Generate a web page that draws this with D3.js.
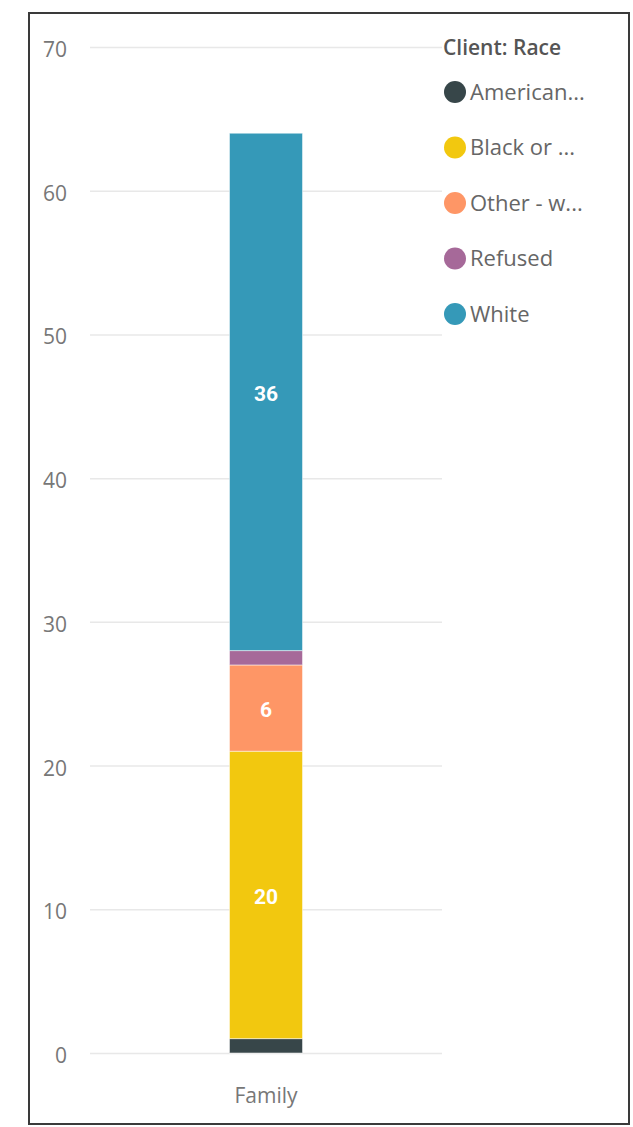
<!DOCTYPE html>
<html>
<head>
<meta charset="utf-8">
<title>stacked column</title>
<style>
  body { margin: 0; background: #fff; }
  text { font-family: "Open Sans", "Noto Sans", sans-serif; }
</style>
</head>
<body>
<svg width="633" height="1127"></svg>
<script src="https://d3js.org/d3.v7.min.js"></script>
<script>

    // data
    var categories = ["Family"];
    var races = ["American...", "Black or ...", "Other - w...", "Refused", "White"];
    var colors = ["#374649", "#F2C80F", "#FE9666", "#A66999", "#3599B8"];
    var counts = [[1, 20, 6, 1, 36]];   // one row per category
    var yTicks = [0, 10, 20, 30, 40, 50, 60, 70];

    var svg = d3.select("svg");

    // frame
    svg.append("rect")
        .attr("x", 29).attr("y", 13)
        .attr("width", 600).attr("height", 1111)
        .attr("fill", "none")
        .attr("stroke", "#3a3a3a")
        .attr("stroke-width", 2);

    var x = d3.scaleBand()
        .domain(categories)
        .range([90, 442])
        .paddingInner(0)
        .paddingOuter(1.91);

    var y = d3.scaleLinear()
        .domain([0, 70])
        .range([1053, 47]);

    // gridlines + tick labels
    var yAxis = svg.append("g")
        .attr("transform", "translate(90,0)")
        .call(d3.axisLeft(y).tickValues(yTicks).tickSize(-352).tickPadding(23));
    yAxis.select(".domain").remove();
    yAxis.selectAll(".tick line").attr("stroke", "#e8e8e8").attr("stroke-width", 1.5);
    yAxis.selectAll(".tick text")
        .attr("fill", "#777")
        .attr("dy", "0.45em")
        .style("font-size", "21px")
        .style("font-family", "'Open Sans', sans-serif");

    var xAxis = svg.append("g")
        .attr("transform", "translate(0,1053)")
        .call(d3.axisBottom(x).tickSize(0).tickPadding(35));
    xAxis.select(".domain").remove();
    xAxis.selectAll(".tick text")
        .attr("fill", "#777")
        .style("font-size", "21px")
        .style("font-family", "'Open Sans', sans-serif");

    // stack
    var rows = categories.map(function (c, i) {
        var r = { cat: c };
        races.forEach(function (k, j) { r[k] = counts[i][j]; });
        return r;
    });
    var series = d3.stack().keys(races)(rows);

    var layer = svg.append("g").selectAll("g")
        .data(series)
        .enter().append("g")
        .attr("fill", function (d, i) { return colors[i]; });

    layer.selectAll("rect")
        .data(function (d) { return d; })
        .enter().append("rect")
        .attr("x", function (d) { return x(d.data.cat); })
        .attr("y", function (d) { return y(d[1]); })
        .attr("width", x.bandwidth())
        .attr("height", function (d) { return y(d[0]) - y(d[1]); })
        .attr("stroke", "rgba(255,255,255,0.5)")
        .attr("stroke-width", 1);

    // data labels on the bigger segments
    layer.selectAll("text")
        .data(function (d) { return d.filter(function (p) { return p[1] - p[0] >= 3; }); })
        .enter().append("text")
        .attr("x", function (d) { return x(d.data.cat) + x.bandwidth() / 2; })
        .attr("y", function (d) { return (y(d[0]) + y(d[1])) / 2 + 2; })
        .attr("dy", "0.35em")
        .attr("text-anchor", "middle")
        .attr("fill", "#fff")
        .style("font-family", "Roboto, sans-serif")
        .style("font-weight", "bold")
        .style("font-size", "21px")
        .text(function (d) { return d[1] - d[0]; });

    // legend
    var legend = svg.append("g");
    legend.append("text")
        .attr("x", 443).attr("y", 55)
        .attr("fill", "#555")
        .style("font-size", "21px")
        .style("font-weight", "600")
        .text("Client: Race");

    var item = legend.selectAll(".item")
        .data(races)
        .enter().append("g")
        .attr("class", "item")
        .attr("transform", function (d, i) { return "translate(0," + (92 + i * 55.5) + ")"; });

    item.append("circle")
        .attr("cx", 455).attr("cy", 0).attr("r", 11)
        .attr("fill", function (d, i) { return colors[i]; });

    item.append("text")
        .attr("x", 470).attr("y", 0)
        .attr("dy", "0.35em")
        .attr("fill", "#666")
        .style("font-size", "22px")
        .text(function (d) { return d; });

</script>
</body>
</html>
